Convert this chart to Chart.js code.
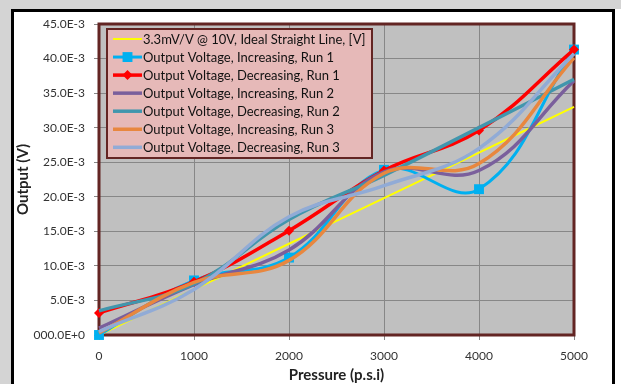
<!DOCTYPE html>
<html>
<head>
<meta charset="utf-8">
<script src="https://cdn.jsdelivr.net/npm/chart.js@4.4.1/dist/chart.umd.min.js"></script>
<style>
    html, body { margin: 0; padding: 0; background: #fff; }
    #wrap { width: 621px; height: 384px; position: relative; }
</style>
</head>
<body>
<div id="wrap"><canvas id="pressure-chart"></canvas></div>
<script>
// Pressure (p.s.i) on the x axis
const pressure = [0, 1000, 2000, 3000, 4000, 5000];

// Output readings, in mV (E-3 V)
const idealLine = [0, 6.6, 13.2, 19.8, 26.4, 33.0];
const incRun1 = [0, 7.9, 11.2, 23.9, 21.1, 41.3];
const decRun1 = [3.2, 7.7, 15.1, 23.8, 29.6, 41.3];
const incRun2 = [1.0, 7.3, 12.3, 23.6, 23.8, 36.8];
const decRun2 = [3.5, 7.4, 16.7, 23.1, 30.0, 37.0];
const incRun3 = [0.3, 7.6, 10.8, 23.4, 24.8, 40.1];
const decRun3 = [0.5, 6.6, 17.1, 21.6, 27.0, 40.7];

const seriesLabels = [
    '3.3mV/V @ 10V, Ideal Straight Line, [V]',
    'Output Voltage, Increasing, Run 1',
    'Output Voltage, Decreasing, Run 1',
    'Output Voltage, Increasing, Run 2',
    'Output Voltage, Decreasing, Run 2',
    'Output Voltage, Increasing, Run 3',
    'Output Voltage, Decreasing, Run 3'
];

const FONT = 'Lato, "Open Sans", sans-serif';

function toPoints(values) {
    return pressure.map((p, i) => ({ x: p, y: values[i] / 1000 }));
}

function formatVolts(v) {
    if (Math.abs(v) < 1e-9) return '000.0E+0';
    return (v * 1000).toFixed(1) + 'E-3';
}

function series(i, values, color, width, style, radius) {
    return {
        label: seriesLabels[i],
        data: toPoints(values),
        borderColor: color,
        backgroundColor: color,
        borderWidth: width,
        pointStyle: style || 'circle',
        pointRadius: radius || 0,
        pointBorderWidth: 0,
        pointHoverRadius: radius || 0,
        tension: 0.4,
        clip: false,
        order: 6 - i
    };
}

// Page background and black chart frame
const frame = {
    id: 'frame',
    beforeDraw(chart) {
        const ctx = chart.ctx;
        const a = chart.chartArea;
        ctx.save();
        ctx.fillStyle = '#ffffff';
        ctx.fillRect(0, 0, chart.width, chart.height);
        ctx.fillStyle = '#d4d4d4';
        ctx.fillRect(0, 0, chart.width, 9);
        ctx.fillRect(0, 0, 11, chart.height);
        ctx.fillStyle = '#000';
        ctx.fillRect(11, 9, 3, chart.height);
        ctx.fillRect(11, 9, 604, 3);
        ctx.fillRect(612, 9, 3, chart.height);
        ctx.fillStyle = '#c0c0c0';
        ctx.fillRect(a.left, a.top, a.right - a.left, a.bottom - a.top);
        ctx.restore();
    },
    beforeDatasetsDraw(chart) {
        const ctx = chart.ctx;
        const a = chart.chartArea;
        ctx.save();
        ctx.strokeStyle = '#632523';
        ctx.lineWidth = 3;
        ctx.strokeRect(a.left, a.top, a.right - a.left, a.bottom - a.top);
        ctx.restore();
    }
};

// Boxed legend inside the plot, like the spreadsheet one
const boxLegend = {
    id: 'boxLegend',
    afterDraw(chart) {
        const ctx = chart.ctx;
        ctx.save();
        ctx.fillStyle = '#e6b9b8';
        ctx.fillRect(107, 29, 265, 129);
        ctx.strokeStyle = '#632523';
        ctx.lineWidth = 2;
        ctx.strokeRect(107, 29, 265, 129);
        chart.data.datasets.forEach((ds, i) => {
            const y = 39 + i * 18.05;
            ctx.strokeStyle = ds.borderColor;
            ctx.lineWidth = ds.borderWidth;
            ctx.beginPath();
            ctx.moveTo(113, y);
            ctx.lineTo(142, y);
            ctx.stroke();
            if (ds.pointRadius > 0) {
                ctx.fillStyle = ds.borderColor;
                Chart.helpers.drawPoint(ctx, { pointStyle: ds.pointStyle, radius: ds.pointRadius, rotation: 0, borderWidth: 0 }, 127.5, y);
            }
            ctx.fillStyle = '#111';
            ctx.font = '13px ' + FONT;
            ctx.textBaseline = 'middle';
            ctx.textAlign = 'left';
            ctx.fillText(ds.label, 143, y + 1);
        });
        ctx.restore();
    }
};

new Chart(document.getElementById('pressure-chart'), {
    type: 'line',
    data: {
        datasets: [
            series(0, idealLine, '#ffff00', 2),
            series(1, incRun1, '#00b0f0', 3, 'rect', 7),
            series(2, decRun1, '#ff0000', 3.5, 'rectRot', 5),
            series(3, incRun2, '#7a5f9c', 3.5),
            series(4, decRun2, '#4196ad', 3.5),
            series(5, incRun3, '#e8873f', 3.5),
            series(6, decRun3, '#91abd6', 3.5)
        ]
    },
    options: {
        responsive: true,
        maintainAspectRatio: false,
        animation: false,
        events: [],
        layout: { padding: { left: 14, top: 24, right: 47, bottom: 0 } },
        plugins: {
            legend: { display: false },
            tooltip: { enabled: false }
        },
        scales: {
            x: {
                type: 'linear',
                min: 0,
                max: 5000,
                afterFit: function(scale) { scale.height = 49; },
                ticks: {
                    stepSize: 1000,
                    color: '#333',
                    padding: 9,
                    font: { family: FONT, size: 12 },
                    callback: function(value) { return String(value); }
                },
                grid: { color: '#878787', tickLength: 5 },
                border: { display: false },
                title: {
                    display: true,
                    text: 'Pressure (p.s.i)',
                    color: '#222',
                    padding: { top: 0, bottom: 0 },
                    font: { family: FONT, size: 15, weight: 'bold' }
                }
            },
            y: {
                min: 0,
                max: 0.045,
                afterFit: function(scale) { scale.width = 85; },
                ticks: {
                    stepSize: 0.005,
                    color: '#333',
                    padding: 9,
                    font: { family: FONT, size: 12 },
                    callback: function(value) { return formatVolts(value); }
                },
                grid: { color: '#878787', tickLength: 5 },
                border: { display: false },
                title: {
                    display: true,
                    text: 'Output (V)',
                    color: '#222',
                    padding: { top: 0, bottom: 0 },
                    font: { family: FONT, size: 15, weight: 'bold' }
                }
            }
        }
    },
    plugins: [frame, boxLegend]
});
</script>
</body>
</html>
